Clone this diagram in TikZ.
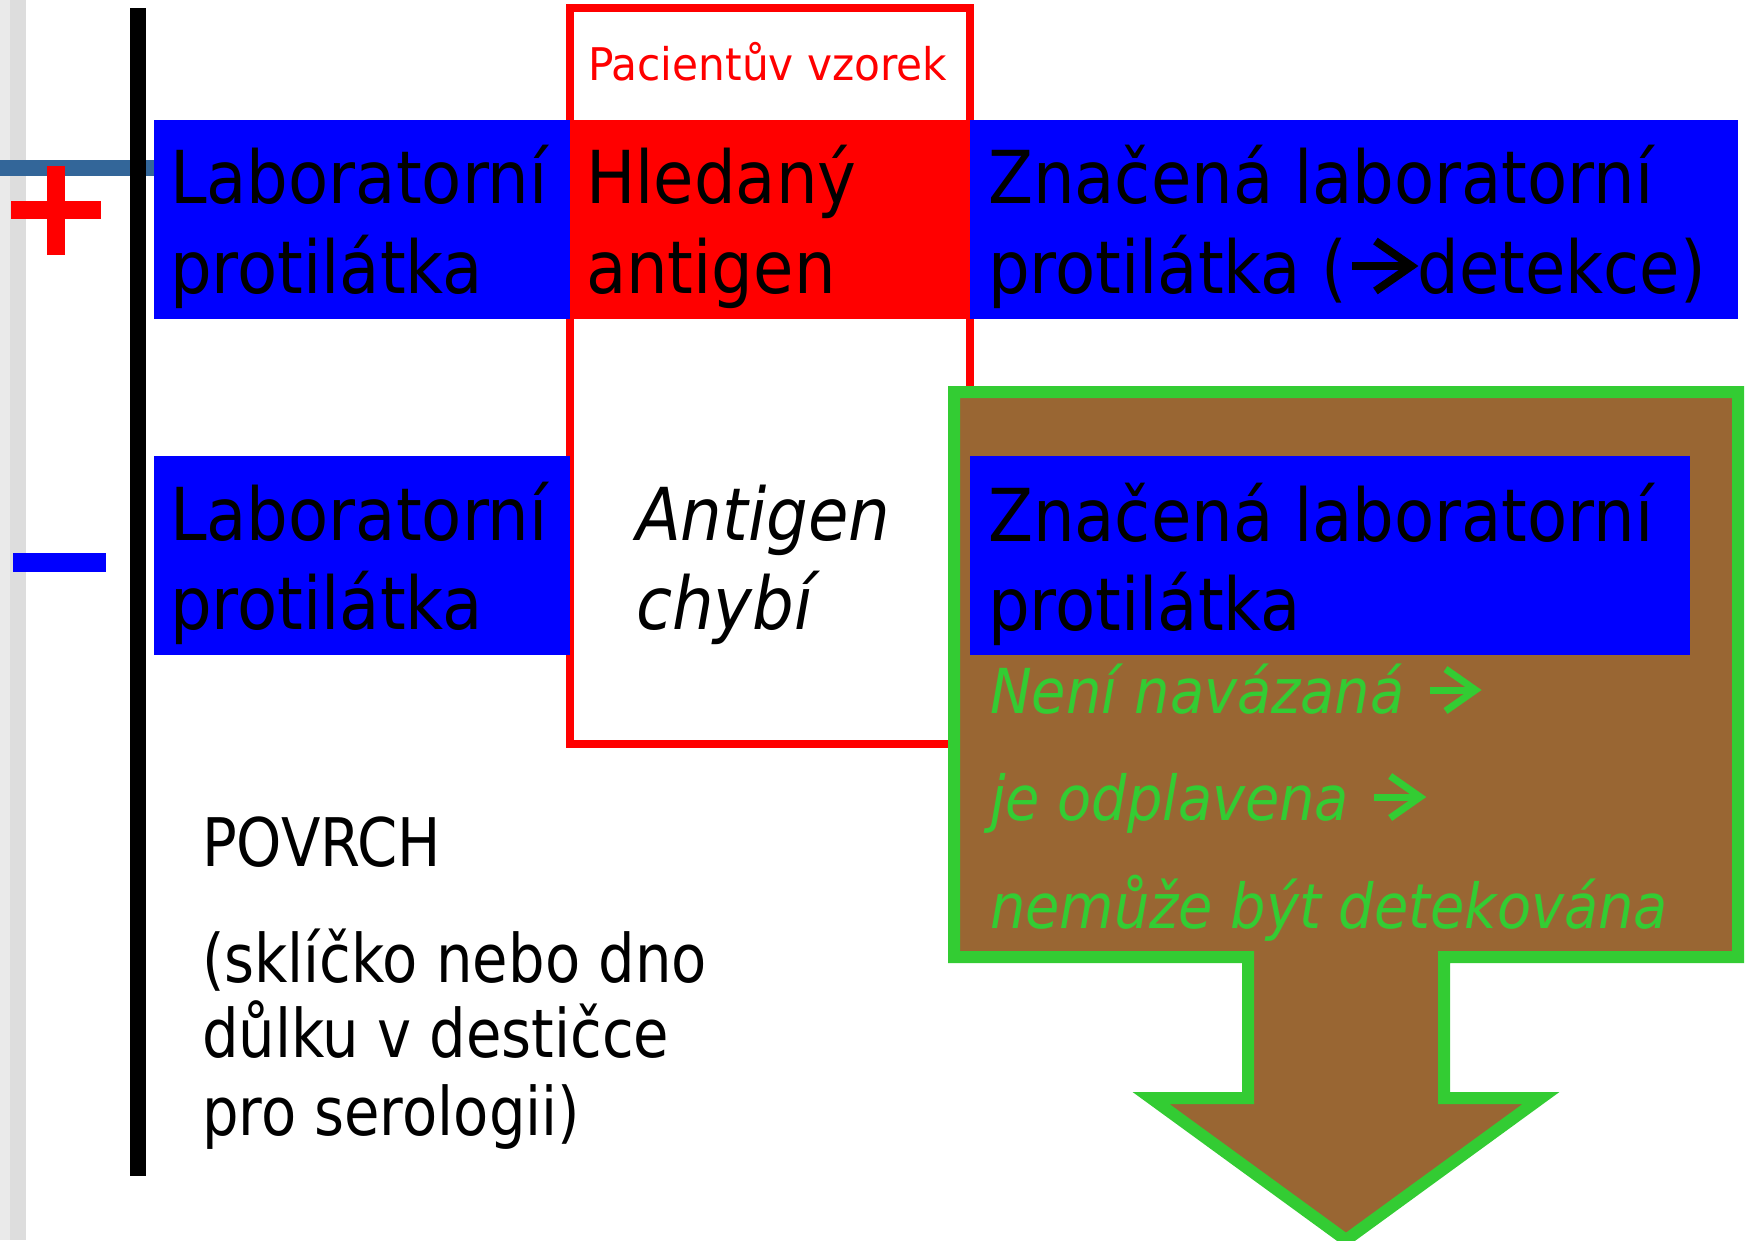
\documentclass[tikz,border=0pt]{standalone}
\usepackage{fontspec}
\setmainfont{DejaVu Sans}[FakeStretch=0.9]
\newfontfamily\pacfont{DejaVu Sans}[FakeStretch=0.94]
\newfontfamily\midfont{DejaVu Sans}[FakeStretch=0.86]
\usetikzlibrary{calc}
\definecolor{cblue}{HTML}{0000FF}
\definecolor{cred}{HTML}{FF0000}
\definecolor{cgreen}{HTML}{33CC33}
\definecolor{cbrown}{HTML}{996633}
\definecolor{csteel}{HTML}{336699}
\definecolor{cgrayA}{HTML}{EAEAEA}
\definecolor{cgrayB}{HTML}{DDDDDD}
\begin{document}
\begin{tikzpicture}[x=1pt,y=-1pt,
  txt/.style={inner sep=0pt, outer sep=0pt, anchor=base west},
  big/.style={txt, font=\fontsize{73}{90}\selectfont},
  bigit/.style={txt, font=\fontsize{73}{90}\selectfont\itshape},
  mid/.style={txt, font=\midfont\fontsize{67}{76}\selectfont},
  grn/.style={txt, text=cgreen, font=\fontsize{62}{80}\selectfont\itshape},
  small/.style={txt, text=cred, font=\pacfont\fontsize{45}{54}\selectfont},
  panel/.style={fill=cblue},
  bigarrow/.style={line width=8pt, line join=miter, line cap=butt},
  grnarrow/.style={cgreen, line width=7pt, line join=miter, line cap=butt}
]
\useasboundingbox (0,0) rectangle (1745,1240);
% left decoration
\fill[cgrayA] (0,0) rectangle (10,1240);
\fill[cgrayB] (10,0) rectangle (26,1240);
\fill[csteel] (0,160) rectangle (154,176);
\fill[black] (130,8) rectangle (146,1176);
\fill[cred] (11,201) rectangle (101,219);
\fill[cred] (47,166) rectangle (65,255);
\fill[cblue] (13,553) rectangle (106,572);
% patient sample outline
\draw[cred, line width=8pt] (570,8) rectangle (970,744);
% top row
\fill[panel] (154,120) rectangle (570,319);
\fill[cred] (570,120) rectangle (970,319);
\fill[panel] (970,120) rectangle (1738,319);
% bottom-left
\fill[panel] (154,456) rectangle (570,655);
% green callout with arrow
\draw[cgreen, fill=cbrown, line width=12pt, line join=miter]
  (954,392) -- (1738,392) -- (1738,957) -- (1444,957) -- (1444,1098)
  -- (1541,1098) -- (1346,1240) -- (1151,1098) -- (1248,1098)
  -- (1248,957) -- (954,957) -- cycle;
\fill[panel] (970,456) rectangle (1690,655);
% texts
\node[small] (pac) at (588,80) {Pacientův vzorek};
\node[big] (lab1a) at (170,203) {Laboratorní};
\node[big] (lab1b) at (170,293) {protilátka};
\node[big] (hl1) at (586,203) {Hledaný};
\node[big] (hl2) at (586,293) {antigen};
\node[big] (zn1a) at (988,203) {Značená laboratorní};
\node[big] (zn1b) at (988,293) {protilátka (};
\coordinate (ar1) at ($(zn1b.base east)+(5,-27)$);
\draw[bigarrow] (ar1) -- ++(52,0);
\draw[bigarrow] ([shift={(23,-25)}]ar1) -- ++(36,25) -- ++(-36,25);
\node[big] (zn1c) at ($(zn1b.base east)+(70,0)$) {detekce)};
\node[big] (lab2a) at (170,540) {Laboratorní};
\node[big] (lab2b) at (170,629) {protilátka};
\node[bigit] (ach1) at (636,540) {Antigen};
\node[bigit] (ach2) at (636,629) {chybí};
\node[big] (zn2a) at (988,541) {Značená laboratorní};
\node[big] (zn2b) at (988,630) {protilátka};
\node[grn] (g1) at (990,713) {Není navázaná};
\coordinate (ga1) at ($(g1.base east)+(25,-23)$);
\draw[grnarrow] (ga1) -- ++(42,0);
\draw[grnarrow] ([shift={(16,-21)}]ga1) -- ++(30,21) -- ++(-30,21);
\node[grn] (g2) at (990,820) {je odplavena};
\coordinate (ga2) at ($(g2.base east)+(25,-23)$);
\draw[grnarrow] (ga2) -- ++(42,0);
\draw[grnarrow] ([shift={(16,-21)}]ga2) -- ++(30,21) -- ++(-30,21);
\node[grn] (g3) at (990,928) {nemůže být detekována};
\node[mid] (pov) at (202,866) {POVRCH};
\node[mid] (pv1) at (202,982) {(sklíčko nebo dno};
\node[mid] (pv2) at (202,1057) {důlku v destičce};
\node[mid] (pv3) at (202,1135) {pro serologii)};
\end{tikzpicture}
\end{document}
